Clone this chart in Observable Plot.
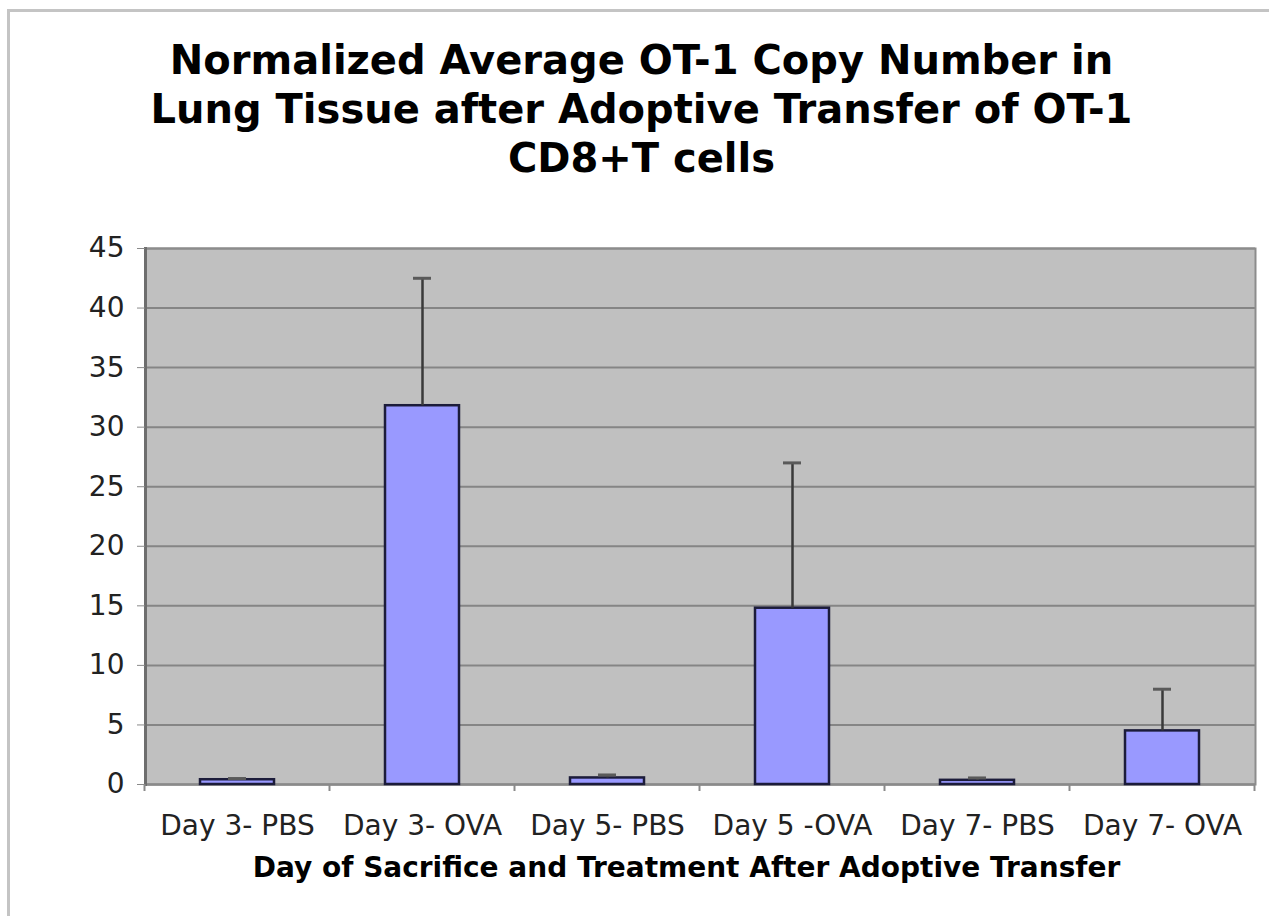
<!DOCTYPE html>
<html>
<head>
<meta charset="utf-8">
<script src="https://cdn.jsdelivr.net/npm/d3@7"></script>
<script src="https://cdn.jsdelivr.net/npm/@observablehq/plot@0.6"></script>
<style>
  html, body { margin: 0; padding: 0; background: #fff; }
  #wrap { position: relative; width: 1269px; height: 916px; overflow: hidden; background: #fff; font-family: "DejaVu Sans", Verdana, sans-serif; }
  #border { position: absolute; left: 7px; top: 9px; width: 1400px; height: 1000px; border: 3px solid #c4c4c4; box-sizing: border-box; pointer-events: none; }
  #title { position: relative; height: 230px; box-sizing: border-box; padding-top: 36px; padding-left: 14px; text-align: center; font-weight: bold; font-size: 40px; line-height: 49px; color: #000; white-space: nowrap; }
  #chart { position: relative; }
</style>
</head>
<body>
<div id="wrap">
  <div id="title">Normalized Average OT-1 Copy Number in<br>Lung Tissue after Adoptive Transfer of OT-1<br>CD8+T cells</div>
  <div id="chart"></div>
  <div id="border"></div>
</div>
<script>
const categories = ["Day 3- PBS", "Day 3- OVA", "Day 5- PBS", "Day 5 -OVA", "Day 7- PBS", "Day 7- OVA"];
const means = [0.4, 31.8, 0.55, 14.8, 0.35, 4.5];
const errors = [0.1, 10.7, 0.25, 12.2, 0.2, 3.5];
const yTicks = [0, 5, 10, 15, 20, 25, 30, 35, 40, 45];
const xTitle = "Day of Sacrifice and Treatment After Adoptive Transfer";

const data = categories.map((c, i) => ({cat: c, value: means[i], upper: means[i] + errors[i]}));

function boundaryTicks() {
  return (index, scales) => {
    const x = scales.x, y = scales.y;
    const bw = typeof x.bandwidth === "function" ? x.bandwidth() : x.bandwidth;
    const st = typeof x.step === "function" ? x.step() : x.step;
    const y0 = y(0);
    const xs = categories.map(c => x(c) - (st - bw) / 2);
    xs.push(x(categories[categories.length - 1]) + bw + (st - bw) / 2);
    const g = d3.create("svg:g");
    g.selectAll("line").data(xs).join("line")
      .attr("x1", d => d).attr("x2", d => d)
      .attr("y1", y0).attr("y2", y0 + 7)
      .attr("stroke", "#8a8a8a").attr("stroke-width", 2);
    return g.node();
  };
}

const plot = Plot.plot({
  width: 1269,
  height: 686,
  marginTop: 18,
  marginBottom: 132,
  marginLeft: 145,
  marginRight: 14,
  style: {fontFamily: "DejaVu Sans, Verdana, sans-serif", background: "transparent"},
  x: {domain: categories, paddingInner: 0.6, paddingOuter: 0.3},
  y: {domain: [0, 45]},
  marks: [
    Plot.frame({fill: "#c0c0c0"}),
    Plot.gridY(yTicks, {stroke: "#858585", strokeOpacity: 1, strokeWidth: 2}),
    Plot.frame({stroke: "#8c8c8c", strokeWidth: 2}),
    Plot.ruleY([0], {stroke: "#8a8a8a", strokeWidth: 2}),
    Plot.frame({anchor: "left", stroke: "#6e6e6e", strokeWidth: 3}),
    Plot.axisY({ticks: yTicks, tickSize: 8, tickPadding: 13, fontSize: 28, stroke: "#8a8a8a", fill: "#222", label: null, tickFormat: d => String(d)}),
    Plot.axisX({tickSize: 0, tickPadding: 31, fontSize: 28, fill: "#222", label: null}),
    boundaryTicks(),
    Plot.barY(data, {x: "cat", y: "value", fill: "#9999ff", stroke: "#1c1c3a", strokeWidth: 2.5}),
    Plot.ruleX(data, {x: "cat", y1: "value", y2: "upper", stroke: "#3a3a3a", strokeWidth: 2.5}),
    Plot.tickY(data, {x: "cat", y: "upper", insetLeft: 28, insetRight: 28, stroke: "#5a5a5a", strokeWidth: 3}),
    Plot.text([xTitle], {frameAnchor: "bottom", lineAnchor: "top", dy: 73, dx: -14, fontSize: 28, fontWeight: "bold", fill: "#000"})
  ]
});
document.getElementById("chart").appendChild(plot);
</script>
</body>
</html>
